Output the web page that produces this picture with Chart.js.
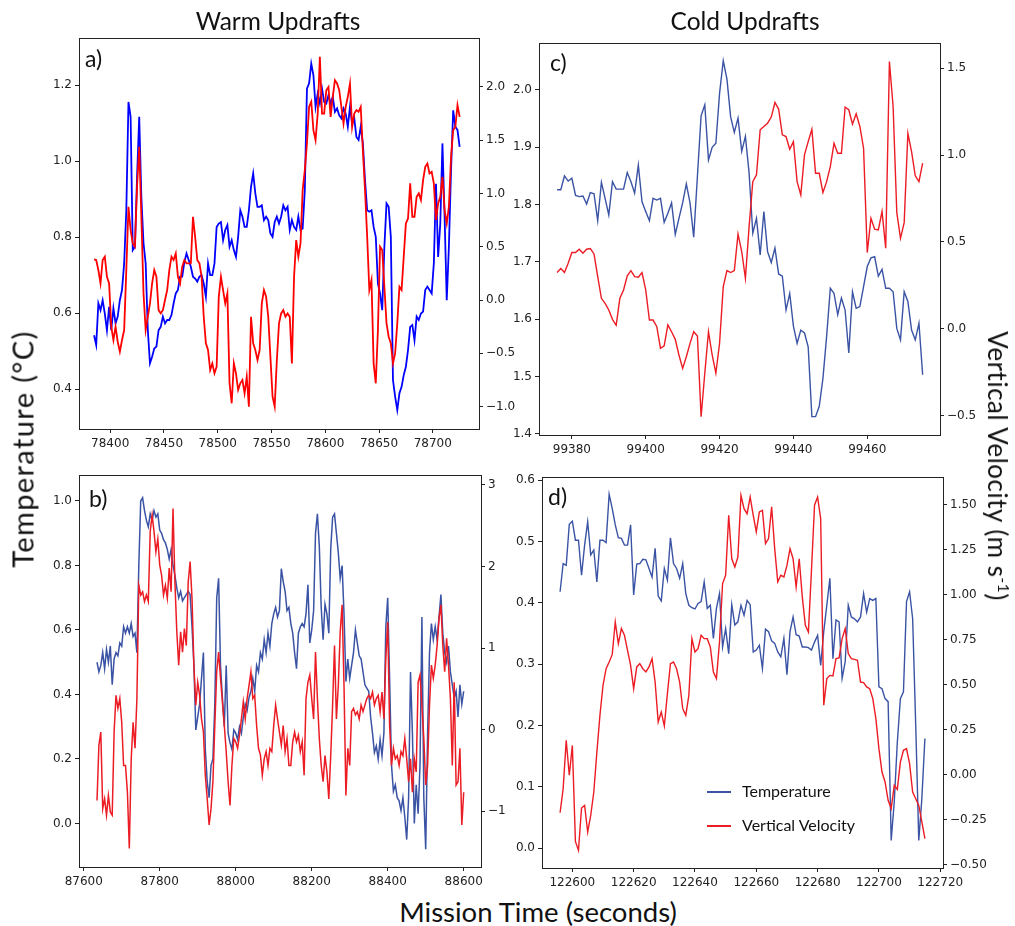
<!DOCTYPE html>
<html>
<head>
<meta charset="utf-8">
<title>Warm and cold updrafts</title>
<script src="https://cdn.jsdelivr.net/npm/chart.js@4.4.0/dist/chart.umd.min.js"></script>
<style>
  body { margin: 0; background: #fff; }
  #wrap { position: relative; width: 1015px; height: 926px; overflow: hidden; font-family: Lato, 'Open Sans', sans-serif; color: #111; }
  #wrap canvas { position: absolute; }
  .lbl { position: absolute; white-space: nowrap; line-height: 1; }
  .rot { transform: translate(-50%, -50%) rotate(-90deg); }
  .rot2 { transform: translate(-50%, -50%) rotate(90deg); }
  .ctr { transform: translate(-50%, -50%); }
  .key { position: absolute; height: 1.5px; width: 24px; }
</style>
</head>
<body>
<div id="wrap">
  <canvas id="chartA"></canvas>
  <canvas id="chartB"></canvas>
  <canvas id="chartC"></canvas>
  <canvas id="chartD"></canvas>

  <div class="lbl ctr" style="left:278px; top:21px; font-size:24.5px;">Warm Updrafts</div>
  <div class="lbl ctr" style="left:745px; top:21px; font-size:24.5px;">Cold Updrafts</div>
  <div class="lbl rot" style="left:22px; top:449px; font-size:29px; letter-spacing:1.4px;">Temperature (°C)</div>
  <div class="lbl rot2" style="left:998px; top:466px; font-size:26px; letter-spacing:0.5px;">Vertical Velocity (m s<sup style="font-size:60%;">-1</sup>)</div>
  <div class="lbl ctr" style="left:538px; top:912px; font-size:27.5px;">Mission Time (seconds)</div>

  <div class="lbl" style="left:85px; top:47px; font-size:23px;">a)</div>
  <div class="lbl" style="left:89px; top:487px; font-size:23px;">b)</div>
  <div class="lbl" style="left:550px; top:51px; font-size:23px;">c)</div>
  <div class="lbl" style="left:548px; top:485px; font-size:23px;">d)</div>

  <div class="key" style="left:707px; top:791px; background:#3a53a4;"></div>
  <div class="lbl" style="left:742px; top:783px; font-size:16px;">Temperature</div>
  <div class="key" style="left:707px; top:825px; background:#ec1c24;"></div>
  <div class="lbl" style="left:742px; top:817px; font-size:16px;">Vertical Velocity</div>
</div>

<script>
// a) warm updraft 1
const timeA = [
  78385,78387,78389,78391,78393,78395,78397,78399,78401,78403,
  78405,78407,78409,78411,78413,78415,78417,78419,78421,78423,
  78425,78427,78429,78431,78433,78435,78437,78439,78441,78443,
  78445,78447,78449,78451,78453,78455,78457,78459,78461,78463,
  78465,78467,78469,78471,78473,78475,78477,78479,78481,78483,
  78485,78487,78489,78491,78493,78495,78497,78499,78501,78503,
  78505,78507,78509,78511,78513,78515,78517,78519,78521,78523,
  78525,78527,78529,78531,78533,78535,78537,78539,78541,78543,
  78545,78547,78549,78551,78553,78555,78557,78559,78561,78563,
  78565,78567,78569,78571,78573,78575,78577,78579,78581,78583,
  78585,78587,78589,78591,78593,78595,78597,78599,78601,78603,
  78605,78607,78609,78611,78613,78615,78617,78619,78621,78623,
  78625,78627,78629,78631,78633,78635,78637,78639,78641,78643,
  78645,78647,78649,78651,78653,78655,78657,78659,78661,78663,
  78665,78667,78669,78671,78673,78675,78677,78679,78681,78683,
  78685,78687,78689,78691,78693,78695,78697,78699,78701,78703,
  78705,78707,78709,78711,78713,78715,78717,78719,78721,78723,
  78725
];
const tempA = [
  0.542,0.516,0.626,0.608,0.634,0.599,0.555,0.617,0.555,0.613,
  0.573,0.591,0.634,0.661,0.731,0.871,1.156,1.117,0.766,0.775,
  0.959,1.117,0.906,0.784,0.731,0.555,0.468,0.485,0.507,0.512,
  0.555,0.564,0.591,0.573,0.582,0.582,0.595,0.626,0.652,0.661,
  0.696,0.696,0.735,0.757,0.740,0.722,0.696,0.691,0.683,0.696,
  0.700,0.678,0.643,0.731,0.700,0.700,0.731,0.827,0.836,0.840,
  0.792,0.819,0.832,0.775,0.792,0.766,0.748,0.801,0.871,0.854,
  0.827,0.827,0.871,0.933,0.968,0.915,0.880,0.880,0.884,0.845,
  0.854,0.845,0.810,0.801,0.840,0.854,0.836,0.854,0.884,0.871,
  0.880,0.819,
  0.845,0.827,0.819,0.854,0.819,0.823,0.924,1.191,1.205,1.257,
  1.227,1.143,1.178,1.152,1.191,1.156,1.152,1.174,1.152,1.170,
  1.130,1.139,1.121,1.113,1.139,1.126,1.091,1.143,1.099,1.113,
  1.064,1.056,1.091,1.047,0.950,0.871,0.867,0.871,0.827,0.801,
  0.678,0.652,0.608,0.775,0.889,0.880,0.801,0.424,0.380,0.345,
  0.389,0.406,0.437,0.459,0.503,0.564,0.569,0.529,0.591,0.582,
  0.599,0.604,0.661,0.670,0.661,0.652,0.731,0.941,0.748,0.836,
  1.047,0.854,0.634,0.775,0.977,1.134,1.091,1.082,1.038
];
const velA = [
  0.382,0.376,0.282,0.157,0.376,0.407,0.219,0.157,-0.250,-0.375,
  -0.250,-0.391,-0.484,-0.375,-0.281,0.282,0.876,0.657,0.532,0.501,
  1.063,1.439,0.782,0.063,-0.281,-0.156,-0.031,0.157,0.282,0.219,
  -0.094,-0.125,-0.094,0.001,0.094,0.282,0.407,0.376,0.438,0.219,
  0.157,0.313,0.376,0.344,0.344,0.344,0.782,0.594,0.376,0.344,
  0.219,-0.156,-0.406,-0.469,-0.656,-0.594,-0.688,-0.625,0.032,0.219,
  0.094,-0.031,0.063,-0.781,-0.969,-0.594,-0.688,-0.844,-0.781,-0.750,
  -0.875,-0.719,-1.000,-0.156,-0.406,-0.469,-0.563,-0.469,-0.031,0.094,
  0.032,-0.156,-0.531,-0.906,-1.000,-0.563,-0.219,-0.125,-0.094,-0.156,
  -0.125,-0.156,
  -0.594,0.219,0.563,0.407,0.532,1.032,1.220,1.470,1.814,1.861,
  1.595,1.501,1.751,2.283,1.751,1.751,1.970,2.001,1.720,1.908,
  2.064,2.033,1.970,1.814,1.658,1.814,1.908,2.033,1.626,1.751,
  1.783,1.767,1.814,1.407,1.032,0.594,0.094,0.188,-0.594,-0.781,
  -0.281,0.501,0.469,0.125,-0.219,-0.344,-0.406,-0.594,-0.500,-0.219,
  0.125,0.094,0.407,0.719,0.766,1.095,0.782,0.782,0.970,1.001,
  0.939,1.126,1.251,1.282,1.188,1.204,1.095,0.751,0.907,0.970,
  1.157,0.845,0.719,0.876,1.345,1.595,1.626,1.830,1.720
];

// b) warm updraft 2
const timeB = [
  87635,87640,87645,87650,87655,87660,87665,87670,87675,87680,
  87685,87690,87695,87700,87705,87710,87715,87720,87725,87730,
  87735,87740,87745,87750,87755,87760,87765,87770,87775,87780,
  87785,87790,87795,87800,87805,87810,87815,87820,87825,87830,
  87835,87840,87845,87850,87855,87860,87865,87870,87875,87880,
  87885,87890,87895,87900,87905,87910,87915,87920,87925,87930,
  87935,87940,87945,87950,87955,87960,87965,87970,87975,87980,
  87985,87990,87995,88000,88005,88010,88015,88020,88025,88030,
  88035,88040,88045,88050,88055,88060,88065,88070,88075,88080,
  88085,88090,88095,88100,88105,88110,88115,88120,88125,88130,
  88135,88140,88145,88150,88155,88160,88165,88170,88175,88180,
  88185,88190,88195,88200,88205,88210,88215,88220,88225,88230,
  88235,88240,88245,88250,88255,88260,88265,88270,88275,88280,
  88285,88290,88295,88300,88305,88310,88315,88320,88325,88330,
  88335,88340,88345,88350,88355,88360,88365,88370,88375,88380,
  88385,88390,88395,88400,88405,88410,88415,88420,88425,88430,
  88435,88440,88445,88450,88455,88460,88465,88470,88475,88480,
  88485,88490,88495,88500,88505,88510,88515,88520,88525,88530,
  88535,88540,88545,88550,88555,88560,88565,88570,88575,88580,
  88585,88590,88595,88600
];
const tempB = [
  0.50,0.47,0.49,0.53,0.48,0.54,0.50,0.55,0.43,0.51,
  0.53,0.52,0.56,0.55,0.61,0.59,0.61,0.59,0.62,0.58,
  0.59,0.53,0.80,1.00,1.01,0.97,0.94,0.92,0.96,0.94,
  0.97,0.95,0.96,0.91,0.90,0.88,0.87,0.85,0.82,0.85,
  0.80,0.77,0.73,0.70,0.72,0.69,0.70,0.71,0.72,0.71,
  0.61,0.49,0.29,0.33,0.37,0.45,0.53,0.23,0.13,0.08,
  0.18,0.20,0.37,0.70,0.76,0.49,0.39,0.30,0.49,0.28,
  0.25,0.23,0.29,0.28,0.26,0.30,0.28,0.33,0.37,0.35,
  0.39,0.41,0.45,0.41,0.49,0.47,0.53,0.51,0.57,0.53,
  0.59,0.55,0.62,0.65,0.67,0.64,0.66,0.79,0.75,0.72,
  0.66,0.67,0.62,0.59,0.53,0.48,0.59,0.61,0.62,0.61,
  0.65,0.74,0.56,0.60,0.66,0.90,0.96,0.86,0.67,0.57,
  0.68,0.65,0.59,0.85,0.95,0.96,0.90,0.84,0.76,0.80,
  0.65,0.44,0.51,0.45,0.49,0.53,0.60,0.56,0.52,0.51,
  0.47,0.43,0.42,0.41,0.33,0.28,0.22,0.24,0.20,0.26,
  0.21,0.28,0.61,0.70,0.45,0.18,0.10,0.12,0.08,0.07,
  0.04,0.08,0.02,-0.05,0.08,0.47,0.28,0.00,0.12,0.03,
  0.18,0.64,0.08,-0.08,0.28,0.53,0.62,0.57,0.61,0.57,
  0.64,0.71,0.59,0.53,0.50,0.55,0.47,0.43,0.39,0.41,
  0.33,0.43,0.37,0.41
];
const velB = [
  -0.87,-0.19,-0.03,-0.97,-0.85,-1.05,-0.81,-1.01,-1.05,-0.03,
  0.42,0.26,0.38,0.09,-0.44,-0.44,-0.77,-1.46,-0.36,0.09,
  -0.23,0.38,1.77,1.65,1.69,1.57,1.65,1.57,2.43,2.63,
  2.43,2.18,2.34,2.02,1.89,1.65,1.77,1.61,1.98,1.69,
  2.71,1.81,1.20,0.79,1.20,0.95,1.24,1.03,1.81,2.06,
  1.61,0.79,0.30,0.58,0.42,0.13,-0.03,-0.56,-0.85,-1.17,
  -0.97,-0.64,0.05,0.71,0.95,0.63,0.34,0.05,-0.27,-0.64,
  -0.93,-0.44,-0.11,-0.15,-0.23,-0.07,0.13,0.34,0.13,0.38,
  0.54,0.71,0.38,0.42,0.05,-0.23,-0.31,-0.56,-0.36,-0.27,
  -0.44,-0.23,-0.27,0.05,0.30,0.13,-0.03,-0.19,0.05,-0.27,
  -0.11,-0.44,-0.44,-0.15,-0.03,-0.15,-0.07,-0.27,-0.15,-0.56,
  0.38,0.58,0.67,0.38,0.13,0.95,0.38,-0.11,-0.44,-0.64,
  -0.32,-0.52,-0.85,-0.32,0.30,1.03,0.13,0.54,1.20,1.53,
  0.54,-0.81,-0.23,-0.44,0.22,0.26,0.18,0.22,0.13,0.30,
  0.22,0.30,0.38,0.42,0.38,0.46,0.30,0.38,0.42,0.22,
  0.46,0.13,0.87,1.32,0.05,-0.44,-0.23,-0.36,-0.32,-0.44,
  -0.27,-0.32,-0.11,-0.36,-0.64,-0.36,-0.77,-0.36,-0.52,0.58,
  0.67,0.30,-0.11,-0.68,-0.44,0.30,0.79,0.63,0.79,1.03,
  1.36,1.53,1.03,0.71,1.12,0.79,0.38,-0.44,0.58,-0.68,
  -0.64,-0.23,-1.17,-0.77
];

// c) cold updraft 1
const timeC = [
  99376,99377,99378,99379,99380,99381,99382,99383,99384,99385,
  99386,99387,99388,99389,99390,99391,99392,99393,99394,99395,
  99396,99397,99398,99399,99400,99401,99402,99403,99404,99405,
  99406,99407,99408,99409,99410,99411,99412,99413,99414,99415,
  99416,99417,99418,99419,99420,99421,99422,99423,99424,99425,
  99426,99427,99428,99429,99430,99431,99432,99433,99434,99435,
  99436,99437,99438,99439,99440,99441,99442,99443,99444,99445,
  99446,99447,99448,99449,99450,99451,99452,99453,99454,99455,
  99456,99457,99458,99459,99460,99461,99462,99463,99464,99465,
  99466,99467,99468,99469,99470,99471,99472,99473,99474,99475
];
const tempC = [
  1.826,1.826,1.850,1.841,1.846,1.816,1.814,1.815,1.801,1.821,
  1.819,1.772,1.839,1.811,1.782,1.840,1.827,1.827,1.827,1.856,
  1.840,1.820,1.869,1.805,1.788,1.772,1.811,1.808,1.811,1.769,
  1.785,1.803,1.748,1.776,1.803,1.836,1.803,1.743,1.849,1.955,
  1.974,1.878,1.900,1.907,1.994,2.051,2.019,1.953,1.926,1.951,
  1.893,1.919,1.855,1.750,1.776,1.712,1.788,1.718,1.699,1.724,
  1.679,1.675,1.616,1.645,1.588,1.558,1.581,1.576,1.552,1.430,
  1.430,1.448,1.497,1.570,1.654,1.645,1.608,1.637,1.616,1.541,
  1.648,1.619,1.622,1.657,1.692,1.707,1.709,1.675,1.687,1.654,
  1.654,1.648,1.584,1.564,1.648,1.631,1.581,1.564,1.593,1.503
];
const velC = [
  0.324,0.347,0.324,0.377,0.439,0.439,0.458,0.435,0.458,0.462,
  0.431,0.301,0.176,0.147,0.109,0.055,0.021,0.176,0.224,0.305,
  0.335,0.301,0.297,0.324,0.224,0.051,0.051,0.013,-0.112,-0.098,
  0.023,-0.016,-0.060,-0.150,-0.227,-0.160,-0.083,-0.016,-0.041,-0.505,
  -0.255,-0.016,-0.150,-0.255,-0.083,0.243,0.335,0.324,0.335,0.546,
  0.445,0.291,0.588,0.847,0.886,1.145,1.164,1.183,1.218,1.302,
  1.264,1.116,1.106,1.033,1.077,0.847,0.771,1.001,1.077,1.148,
  0.895,0.895,0.784,0.847,0.934,1.068,1.010,1.010,1.275,1.260,
  1.177,1.237,1.164,1.039,0.439,0.636,0.573,0.569,0.675,0.464,
  1.538,1.279,0.669,0.521,0.611,1.125,1.020,0.880,0.847,0.953
];

// d) cold updraft 2
const timeD = [
  122596,122597,122598,122599,122600,122601,122602,122603,122604,122605,
  122606,122607,122608,122609,122610,122611,122612,122613,122614,122615,
  122616,122617,122618,122619,122620,122621,122622,122623,122624,122625,
  122626,122627,122628,122629,122630,122631,122632,122633,122634,122635,
  122636,122637,122638,122639,122640,122641,122642,122643,122644,122645,
  122646,122647,122648,122649,122650,122651,122652,122653,122654,122655,
  122656,122657,122658,122659,122660,122661,122662,122663,122664,122665,
  122666,122667,122668,122669,122670,122671,122672,122673,122674,122675,
  122676,122677,122678,122679,122680,122681,122682,122683,122684,122685,
  122686,122687,122688,122689,122690,122691,122692,122693,122694,122695,
  122696,122697,122698,122699,122700,122701,122702,122703,122704,122705,
  122706,122707,122708,122709,122710,122711,122712,122713,122714,122715
];
const tempD = [
  0.418,0.464,0.461,0.528,0.533,0.502,0.502,0.445,0.494,0.532,
  0.478,0.486,0.434,0.502,0.502,0.498,0.577,0.554,0.527,0.506,
  0.505,0.494,0.494,0.527,0.413,0.463,0.464,0.471,0.470,0.456,
  0.442,0.489,0.411,0.403,0.456,0.437,0.506,0.464,0.456,0.440,
  0.464,0.415,0.396,0.392,0.390,0.399,0.402,0.434,0.391,0.396,
  0.342,0.391,0.415,0.328,0.358,0.317,0.397,0.364,0.369,0.396,
  0.380,0.404,0.397,0.320,0.323,0.331,0.293,0.357,0.353,0.338,
  0.334,0.320,0.312,0.342,0.283,0.353,0.377,0.348,0.346,0.328,
  0.328,0.327,0.323,0.336,0.347,0.298,0.353,0.396,0.440,0.309,
  0.372,0.369,0.277,0.304,0.396,0.377,0.374,0.369,0.377,0.415,
  0.385,0.407,0.404,0.407,0.263,0.260,0.244,0.239,0.013,0.076,
  0.173,0.244,0.255,0.402,0.418,0.374,0.201,0.013,0.081,0.179
];
const velD = [
  -0.212,-0.078,0.190,-0.004,0.162,-0.371,-0.421,-0.186,-0.171,-0.319,
  -0.226,-0.097,0.125,0.329,0.496,0.588,0.625,0.666,0.848,0.727,
  0.811,0.774,0.690,0.607,0.477,0.598,0.616,0.588,0.570,0.598,
  0.644,0.514,0.292,0.348,0.270,0.449,0.616,0.625,0.588,0.514,
  0.366,0.329,0.440,0.755,0.681,0.699,0.774,0.755,0.755,0.709,
  0.570,0.533,0.737,1.061,1.107,1.440,1.199,1.153,1.209,1.551,
  1.477,1.449,1.542,1.440,1.348,1.459,1.468,1.283,1.311,1.487,
  1.255,1.070,1.107,1.098,1.162,1.255,1.199,1.042,1.199,0.987,
  0.829,0.792,1.135,1.496,1.542,1.422,0.385,0.533,0.551,0.548,
  0.644,0.648,0.755,0.811,0.672,0.644,0.640,0.635,0.514,0.511,
  0.487,0.477,0.422,0.311,0.144,0.014,-0.041,-0.143,-0.189,-0.060,
  -0.082,0.070,0.135,0.144,0.061,-0.097,-0.134,-0.171,-0.263,-0.356
];

// tick labels
const xTicksA = [78400, 78450, 78500, 78550, 78600, 78650, 78700];
const tempTicksA = [0.4, 0.6, 0.8, 1.0, 1.2];
const velTicksA = [-1.0, -0.5, 0.0, 0.5, 1.0, 1.5, 2.0];
const xTicksB = [87600, 87800, 88000, 88200, 88400, 88600];
const tempTicksB = [0.0, 0.2, 0.4, 0.6, 0.8, 1.0];
const velTicksB = [-1, 0, 1, 2, 3];
const xTicksC = [99380, 99400, 99420, 99440, 99460];
const tempTicksC = [1.4, 1.5, 1.6, 1.7, 1.8, 1.9, 2.0];
const velTicksC = [-0.5, 0.0, 0.5, 1.0, 1.5];
const xTicksD = [122600, 122620, 122640, 122660, 122680, 122700, 122720];
const tempTicksD = [0.0, 0.1, 0.2, 0.3, 0.4, 0.5, 0.6];
const velTicksD = [-0.50, -0.25, 0.00, 0.25, 0.50, 0.75, 1.00, 1.25, 1.50];

const INK = '#222';
Chart.defaults.font.family = "'DejaVu Sans', sans-serif";
Chart.defaults.font.size = 12;
Chart.defaults.color = INK;

// full box round the plot, like matplotlib spines
const framePlugin = {
    id: 'frame',
    afterDraw(chart) {
        const a = chart.chartArea;
        const ctx = chart.ctx;
        ctx.save();
        ctx.strokeStyle = INK;
        ctx.lineWidth = 1;
        ctx.strokeRect(Math.round(a.left) + 0.5, Math.round(a.top) + 0.5,
            Math.round(a.right - a.left), Math.round(a.bottom - a.top));
        ctx.restore();
    }
};

function fmt(v, dec) {
    const s = Math.abs(v).toFixed(dec);
    return (v < -1e-9 ? '\u2212' : '') + s;
}

function axis(position, min, max, ticks, dec, size) {
    const horizontal = position === 'bottom';
    return {
        type: 'linear',
        position: position,
        min: min,
        max: max,
        afterBuildTicks: s => { s.ticks = ticks.map(v => ({ value: v })); },
        afterFit: s => { if (horizontal) s.height = size; else s.width = size; },
        ticks: {
            autoSkip: false,
            maxRotation: 0,
            padding: horizontal ? 4 : 3,
            callback: v => horizontal ? String(v) : fmt(v, dec)
        },
        grid: { drawOnChartArea: false, drawTicks: true, tickLength: 4, color: INK },
        border: { display: false }
    };
}

const panels = [
    { id: 'chartA', time: timeA, temp: tempA, vel: velA,
      xTicks: xTicksA, tTicks: tempTicksA, vTicks: velTicksA, tDec: 1, vDec: 1,
      box: [30, 28, 490, 432], area: { left: 49, right: 41, top: 10, bottom: 31 },
      xr: [78371, 78743], tr: [0.295, 1.324], vr: [-1.21, 2.458],
      colors: ['#0000ff', '#ff0000'], lw: 1.8 },
    { id: 'chartB', time: timeB, temp: tempB, vel: velB,
      xTicks: xTicksB, tTicks: tempTicksB, vTicks: velTicksB, tDec: 1, vDec: 0,
      box: [30, 465, 490, 430], area: { left: 49, right: 39, top: 10, bottom: 28 },
      xr: [87587.6, 88645.5], tr: [-0.135, 1.080], vr: [-1.686, 3.12],
      colors: ['#3a53a4', '#ec1c24'], lw: 1.5 },
    { id: 'chartC', time: timeC, temp: tempC, vel: velC,
      xTicks: xTicksC, tTicks: tempTicksC, vTicks: velTicksC, tDec: 1, vDec: 1,
      box: [495, 28, 500, 437], area: { left: 44, right: 55, top: 15, bottom: 30 },
      xr: [99371.1, 99479.7], tr: [1.398, 2.082], vr: [-0.610, 1.644],
      colors: ['#3a53a4', '#ec1c24'], lw: 1.4 },
    { id: 'chartD', time: timeD, temp: tempD, vel: velD,
      xTicks: xTicksD, tTicks: tempTicksD, vTicks: velTicksD, tDec: 1, vDec: 2,
      box: [495, 465, 500, 430], area: { left: 47, right: 52, top: 12, bottom: 27 },
      xr: [122590.1, 122720.9], tr: [-0.032, 0.605], vr: [-0.519, 1.653],
      colors: ['#3a53a4', '#ec1c24'], lw: 1.4 }
];

panels.forEach(p => {
    const cv = document.getElementById(p.id);
    cv.width = p.box[2];
    cv.height = p.box[3];
    cv.style.left = p.box[0] + 'px';
    cv.style.top = p.box[1] + 'px';
    cv.style.width = p.box[2] + 'px';
    cv.style.height = p.box[3] + 'px';

    new Chart(cv.getContext('2d'), {
        type: 'line',
        data: {
            datasets: [{
                label: 'Vertical Velocity',
                data: p.time.map((t, i) => ({ x: t, y: p.vel[i] })),
                yAxisID: 'y1',
                borderColor: p.colors[1],
                borderWidth: p.lw,
                pointRadius: 0,
                tension: 0,
                order: 0
            }, {
                label: 'Temperature',
                data: p.time.map((t, i) => ({ x: t, y: p.temp[i] })),
                yAxisID: 'y',
                borderColor: p.colors[0],
                borderWidth: p.lw,
                pointRadius: 0,
                tension: 0,
                order: 1
            }]
        },
        options: {
            responsive: false,
            animation: false,
            events: [],
            layout: { padding: { top: p.area.top, left: 0, right: 0, bottom: 0 } },
            plugins: { legend: { display: false }, tooltip: { enabled: false } },
            scales: {
                x: axis('bottom', p.xr[0], p.xr[1], p.xTicks, 0, p.area.bottom),
                y: axis('left', p.tr[0], p.tr[1], p.tTicks, p.tDec, p.area.left),
                y1: axis('right', p.vr[0], p.vr[1], p.vTicks, p.vDec, p.area.right)
            }
        },
        plugins: [framePlugin]
    });
});
</script>
</body>
</html>
